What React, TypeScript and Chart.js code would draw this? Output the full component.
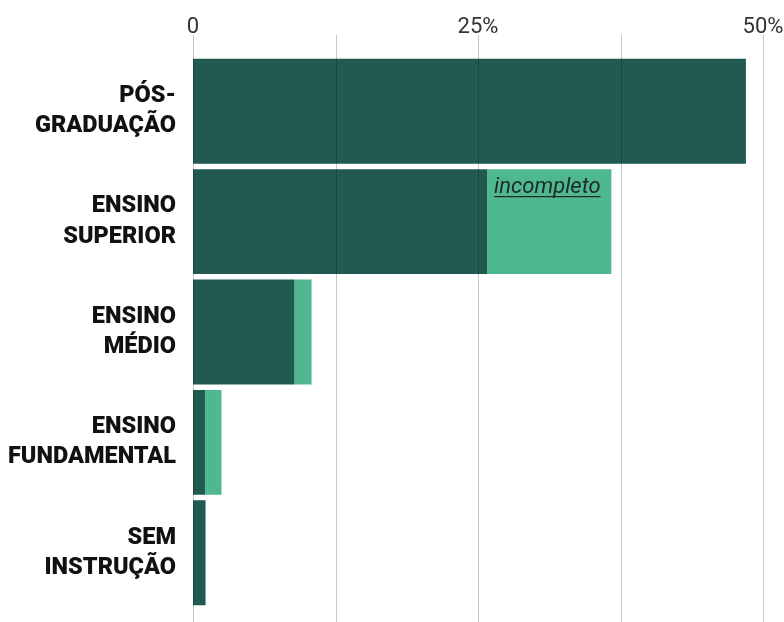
import React, { useEffect, useRef } from "react";
import { Chart, registerables } from "chart.js";

Chart.register(...registerables);

const categories: string[][] = [
  ["PÓS-", "GRADUAÇÃO"],
  ["ENSINO", "SUPERIOR"],
  ["ENSINO", "MÉDIO"],
  ["ENSINO", "FUNDAMENTAL"],
  ["SEM", "INSTRUÇÃO"],
];
const completo: number[] = [48.5, 25.8, 8.9, 1.05, 1.1];
const incompleto: number[] = [0, 10.9, 1.5, 1.45, 0];
const tickValues: number[] = [0, 12.5, 25, 37.5, 50];
const tickLabels: Record<string, string> = { "0": "0", "25": "25%", "50": "50%" };
const annotationText = "incompleto";
const annotationIndex = 1;

const DARK = "#205a50";
const LIGHT = "#50b890";

const overlayPlugin = {
  id: "overlay",
  afterDatasetsDraw(chart: any) {
    const { ctx, chartArea, scales } = chart;
    const x = scales.x;
    ctx.save();
    ctx.strokeStyle = "rgba(0,0,0,0.22)";
    ctx.lineWidth = 1;
    for (const v of tickValues) {
      const px = Math.round(x.getPixelForValue(v)) + 0.5;
      ctx.beginPath();
      ctx.moveTo(px, chartArea.top - 21);
      ctx.lineTo(px, chart.height);
      ctx.stroke();
    }
    const meta0 = chart.getDatasetMeta(0);
    const meta1 = chart.getDatasetMeta(1);
    const darkBar = meta0.data[annotationIndex];
    const lightBar = meta1.data[annotationIndex];
    if (darkBar && lightBar) {
      const top = lightBar.y - lightBar.height / 2;
      const left = darkBar.x + 7;
      ctx.font = "italic 22px Roboto";
      ctx.fillStyle = "#1c2b27";
      ctx.textBaseline = "alphabetic";
      ctx.textAlign = "left";
      ctx.fillText(annotationText, left, top + 24);
      const w = ctx.measureText(annotationText).width;
      ctx.strokeStyle = "#1c2b27";
      ctx.lineWidth = 1.2;
      ctx.beginPath();
      ctx.moveTo(left, top + 27.5);
      ctx.lineTo(left + w, top + 27.5);
      ctx.stroke();
    }
    ctx.restore();
  },
};

export default function App() {
  const ref = useRef<HTMLCanvasElement | null>(null);
  useEffect(() => {
    document.body.style.margin = "0";
    const chart = new Chart(ref.current as HTMLCanvasElement, {
      type: "bar",
      data: {
        labels: categories,
        datasets: [
          {
            label: "completo",
            data: completo,
            backgroundColor: DARK,
            barPercentage: 0.95,
            categoryPercentage: 1,
            stack: "s",
          },
          {
            label: "incompleto",
            data: incompleto,
            backgroundColor: LIGHT,
            barPercentage: 0.95,
            categoryPercentage: 1,
            stack: "s",
          },
        ],
      },
      options: {
        indexAxis: "y",
        animation: false,
        responsive: false,
        maintainAspectRatio: false,
        layout: { padding: { right: 21, bottom: 14, left: 0, top: 0 } },
        plugins: { legend: { display: false }, tooltip: { enabled: false } },
        scales: {
          x: {
            position: "top",
            stacked: true,
            min: 0,
            max: 50,
            afterBuildTicks: (scale: any) => {
              scale.ticks = tickValues.map((v) => ({ value: v }));
            },
            afterFit: (scale: any) => {
              scale.height = 56;
              scale.paddingLeft = 0;
              scale.paddingRight = 0;
            },
            grid: { display: false },
            border: { display: false },
            ticks: {
              autoSkip: false,
              maxRotation: 0,
              padding: 10,
              color: "#333",
              font: { family: "Roboto", size: 22, weight: "400", lineHeight: 1 },
              callback: (v: any) => tickLabels[String(v)] ?? "",
            },
          },
          y: {
            stacked: true,
            afterFit: (scale: any) => {
              scale.width = 193;
              scale.paddingTop = 0;
              scale.paddingBottom = 0;
            },
            grid: { display: false, drawTicks: false },
            border: { display: false },
            ticks: {
              padding: 17,
              color: "#111",
              font: { family: "Roboto", size: 23.5, weight: "900", lineHeight: 1.28 },
            },
          },
        },
      },
      plugins: [overlayPlugin],
    } as any);
    return () => chart.destroy();
  }, []);
  return <canvas ref={ref} width={784} height={622} style={{ display: "block" }} />;
}
